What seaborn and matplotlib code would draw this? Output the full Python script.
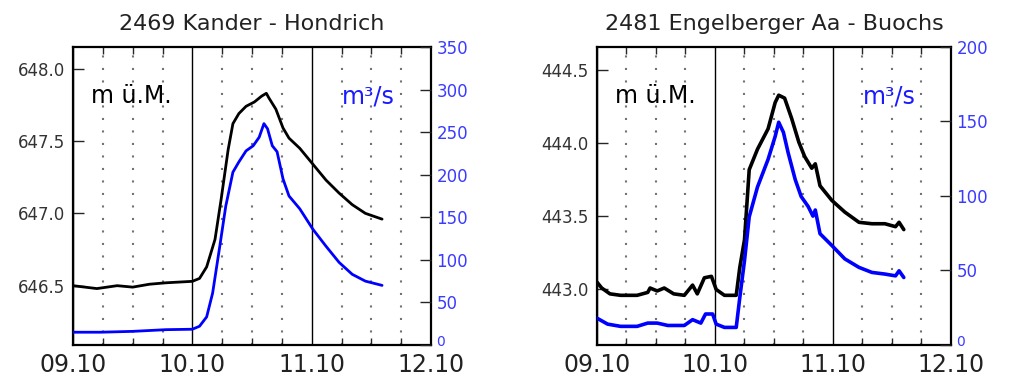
import matplotlib
matplotlib.use("Agg")
import pandas as pd
import matplotlib.pyplot as plt
import seaborn as sb
from matplotlib.ticker import MultipleLocator, FormatStrFormatter
from matplotlib.transforms import ScaledTranslation

sb.set_style("white")
plt.rcParams["font.family"] = ["DejaVu Sans"]
plt.rcParams["xtick.direction"] = "in"
plt.rcParams["ytick.direction"] = "in"

day_ticks = [0, 1, 2, 3]
day_labels = ["09.10", "10.10", "11.10", "12.10"]

# 2469 Kander - Hondrich (days since 09.10 00:00)
kander_level_t = [0.0, 0.2, 0.37, 0.5, 0.64, 0.78, 1.0, 1.06, 1.12, 1.19, 1.24, 1.30, 1.34, 1.39,
                  1.45, 1.52, 1.58, 1.62, 1.64, 1.70, 1.76, 1.81, 1.90, 2.01, 2.12, 2.23, 2.34,
                  2.45, 2.59]
kander_level = [646.50, 646.48, 646.50, 646.49, 646.51, 646.52, 646.53, 646.55, 646.63, 646.82,
                647.09, 647.44, 647.62, 647.69, 647.74, 647.77, 647.81, 647.83, 647.80, 647.72,
                647.59, 647.52, 647.45, 647.34, 647.23, 647.14, 647.06, 647.00, 646.96]
kander_flow_t = [0.0, 0.23, 0.5, 0.78, 1.0, 1.06, 1.12, 1.17, 1.23, 1.28, 1.34, 1.39, 1.45, 1.51,
                 1.56, 1.60, 1.63, 1.67, 1.71, 1.76, 1.81, 1.90, 2.01, 2.12, 2.23, 2.34, 2.45, 2.59]
kander_flow = [15, 15, 16, 18, 18.5, 22, 33, 61, 116, 163, 203, 215, 228, 234, 244, 260, 254, 234,
               227, 195, 175, 160, 136, 116, 97, 83, 75, 70]
kander_level_ticks = [646.5, 647.0, 647.5, 648.0]
kander_flow_ticks = [0, 50, 100, 150, 200, 250, 300, 350]

# 2481 Engelberger Aa - Buochs
engel_level_t = [0.0, 0.04, 0.11, 0.20, 0.34, 0.43, 0.45, 0.51, 0.57, 0.65, 0.74, 0.81, 0.85,
                 0.91, 0.97, 1.01, 1.08, 1.18, 1.21, 1.25, 1.29, 1.36, 1.45, 1.51, 1.54, 1.59,
                 1.65, 1.71, 1.76, 1.82, 1.85, 1.89, 1.99, 2.10, 2.22, 2.33, 2.44, 2.53, 2.56, 2.60]
engel_level = [443.05, 443.01, 442.97, 442.96, 442.96, 442.98, 443.01, 442.99, 443.01, 442.97,
               442.96, 443.03, 442.97, 443.08, 443.09, 443.00, 442.96, 442.96, 443.15, 443.34,
               443.82, 443.96, 444.10, 444.28, 444.33, 444.31, 444.17, 444.01, 443.91, 443.83,
               443.86, 443.71, 443.61, 443.53, 443.46, 443.45, 443.45, 443.43, 443.46, 443.41]
engel_flow_t = [0.0, 0.09, 0.20, 0.34, 0.43, 0.51, 0.60, 0.74, 0.81, 0.88, 0.92, 0.98, 1.01, 1.08,
                1.18, 1.21, 1.25, 1.29, 1.36, 1.45, 1.51, 1.54, 1.58, 1.62, 1.68, 1.73, 1.79,
                1.83, 1.85, 1.89, 1.99, 2.10, 2.22, 2.33, 2.44, 2.53, 2.56, 2.60]
engel_flow = [18, 14, 12.5, 12.5, 14.7, 14.7, 13.1, 13.1, 17, 14.7, 20.8, 20.8, 14, 11.8, 11.8,
              31.7, 56.6, 86, 106, 124.6, 140, 149.5, 142.7, 129, 111, 99.7, 92.9, 86.5, 90.6,
              74.7, 66.8, 57.8, 52.1, 48.7, 47.6, 46.4, 49.8, 45.3]
engel_level_ticks = [443.0, 443.5, 444.0, 444.5]
engel_flow_ticks = [0, 50, 100, 150, 200]

stations = [
    dict(title="2469 Kander - Hondrich", lt=kander_level_t, lv=kander_level, qt=kander_flow_t,
         qv=kander_flow, ylim=(646.09, 648.15), yticks=kander_level_ticks,
         qlim=(0, 350), qticks=kander_flow_ticks, lw=2.0),
    dict(title="2481 Engelberger Aa - Buochs", lt=engel_level_t, lv=engel_level, qt=engel_flow_t,
         qv=engel_flow, ylim=(442.62, 444.66), yticks=engel_level_ticks,
         qlim=(0, 200), qticks=engel_flow_ticks, lw=2.6),
]

fig = plt.figure(figsize=(10.24, 3.84), dpi=100)
boxes = [[0.0713, 0.1016, 0.3496, 0.776], [0.583, 0.1016, 0.3457, 0.776]]

for st, box in zip(stations, boxes):
    ax = fig.add_axes(box)
    level_df = pd.DataFrame({"t": st["lt"], "level": st["lv"]})
    flow_df = pd.DataFrame({"t": st["qt"], "flow": st["qv"]})

    ax.set_xlim(0, 3)
    ax.set_ylim(*st["ylim"])
    ax.xaxis.set_major_locator(MultipleLocator(1))
    ax.xaxis.set_minor_locator(MultipleLocator(0.25))
    ax.grid(which="major", axis="x", color="black", linestyle="-", linewidth=1.0)
    ax.grid(which="minor", axis="x", color="0.45", linestyle=(0, (1, 5)), linewidth=1.5)
    ax.set_axisbelow(True)

    sb.lineplot(data=level_df, x="t", y="level", color="black", linewidth=st["lw"],
                estimator=None, ax=ax)
    ax.set_xticks(day_ticks)
    ax.set_xticklabels(day_labels, fontsize=17, color="#222222")
    ax.set_yticks(st["yticks"])
    ax.yaxis.set_major_formatter(FormatStrFormatter("%.1f"))
    ax.tick_params(axis="y", labelsize=12, labelcolor="#333333", length=8, width=1, pad=6)
    ax.tick_params(axis="x", which="major", length=0, pad=6, top=False)
    ax.tick_params(axis="x", which="minor", length=5, width=1, top=True, bottom=True)
    ax.set(xlabel=None, ylabel=None)
    for sp in ax.spines.values():
        sp.set_color("black")
        sp.set_linewidth(1.6)
    ax.set_title(st["title"], fontsize=16, color="#222222", pad=12)
    ax.text(0.05, 0.835, "m ü.M.", transform=ax.transAxes, fontsize=17, color="black",
            va="center", ha="left")

    ax2 = ax.twinx()
    sb.lineplot(data=flow_df, x="t", y="flow", color="#0000ff", linewidth=st["lw"],
                estimator=None, ax=ax2)
    ax2.set_ylim(*st["qlim"])
    flow_ticks = ax2.set_yticks(st["qticks"])
    ax2.tick_params(axis="y", labelsize=12, labelcolor="#3b3bff", length=8, width=1, pad=4)
    ax2.set(xlabel=None, ylabel=None)
    ax2.text(0.90, 0.835, "m³/s", transform=ax.transAxes, fontsize=17, color="#1a1aff",
             va="center", ha="right")
    for sp in ax2.spines.values():
        sp.set_visible(False)

    # the "0" on the discharge axis sits a little higher and smaller, clear of "12.10"
    zero_label = flow_ticks[0].label2
    zero_label.set_fontsize(10)
    zero_label.set_transform(zero_label.get_transform()
                             + ScaledTranslation(0, 3 / 72, fig.dpi_scale_trans))

plt.savefig("out.png", dpi=100)
